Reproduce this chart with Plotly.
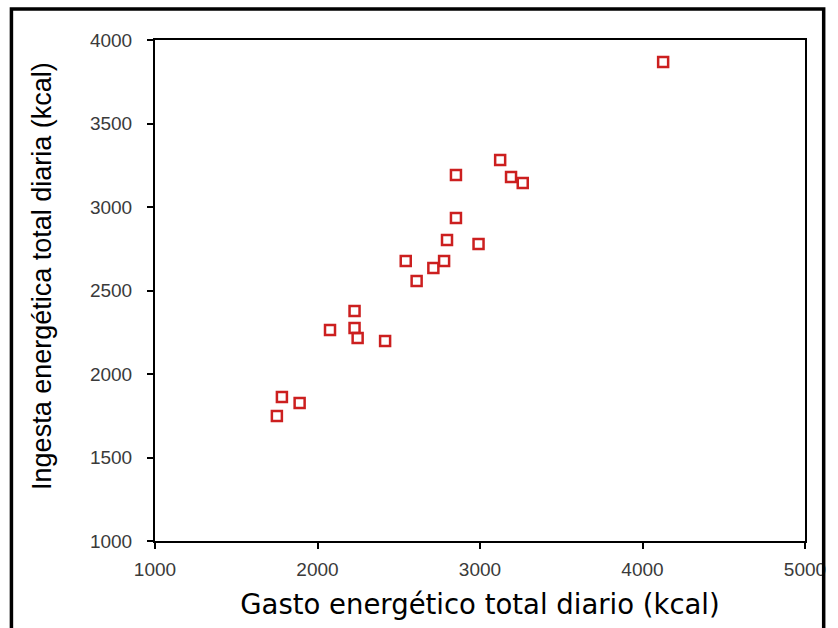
import plotly.graph_objects as go

gasto = [1750, 1781, 1890, 2077, 2228, 2228, 2247, 2416, 2543, 2610, 2713, 2779, 2797, 2852, 2852, 2991, 3124, 3191, 3263, 4127]
ingesta = [1749, 1862, 1826, 2263, 2377, 2275, 2216, 2198, 2677, 2557, 2635, 2677, 2802, 2934, 3192, 2778, 3281, 3180, 3144, 3868]

x_ticks = [1000, 2000, 3000, 4000, 5000]
y_ticks = [1000, 1500, 2000, 2500, 3000, 3500, 4000]

x_title = "Gasto energético total diario (kcal)"
y_title = "Ingesta energética total diaria (kcal)"

W, H = 838, 628
L, R, T, B = 155, 22, 40, 87
pw, ph = W - L - R, H - T - B

fig = go.Figure()
fig.add_trace(go.Scatter(
    x=gasto, y=ingesta, mode="markers",
    marker=dict(symbol="square-open", size=10, color="#cc1f1f", line=dict(width=2.5, color="#cc1f1f")),
    showlegend=False,
))

font_fam = "Liberation Sans, Arial, sans-serif"
fig.update_layout(
    width=W, height=H,
    margin=dict(l=L, r=R, t=T, b=B),
    paper_bgcolor="white", plot_bgcolor="white",
    font=dict(family=font_fam),
    xaxis=dict(
        range=[1000, 5000], tickvals=x_ticks, showgrid=False, zeroline=False,
        showline=True, linecolor="black", linewidth=2, mirror=True,
        ticks="outside", ticklen=6, tickcolor="black", tickwidth=2,
        ticklabelstandoff=4,
        tickfont=dict(size=19, color="#3a3a3a"),
        title=dict(text=x_title,
                   font=dict(size=27.5, color="black", family="DejaVu Sans, sans-serif"), standoff=16),
    ),
    yaxis=dict(
        range=[1000, 4000], tickvals=y_ticks, showgrid=False, zeroline=False,
        showline=True, linecolor="black", linewidth=2, mirror=True,
        ticks="outside", ticklen=6, tickcolor="black", tickwidth=2,
        ticklabelstandoff=11,
        tickfont=dict(size=19, color="#3a3a3a"),
    ),
)

fig.add_annotation(
    text=y_title, textangle=-90, showarrow=False,
    xref="paper", yref="paper",
    x=(40 - L) / pw, y=(T + ph - 276) / ph,
    xanchor="center", yanchor="middle",
    font=dict(size=27, color="black", family=font_fam),
)

# outer black frame around the whole picture
x0 = (9 - L) / pw
x1 = (835 - L) / pw
y1 = 1 + (T - 9) / ph
y0 = -(B + 5) / ph
fig.add_shape(type="rect", xref="paper", yref="paper", x0=x0, x1=x1, y0=y0, y1=y1,
              line=dict(color="black", width=3.5), fillcolor="rgba(0,0,0,0)", layer="above")

fig.write_html("out.html")
